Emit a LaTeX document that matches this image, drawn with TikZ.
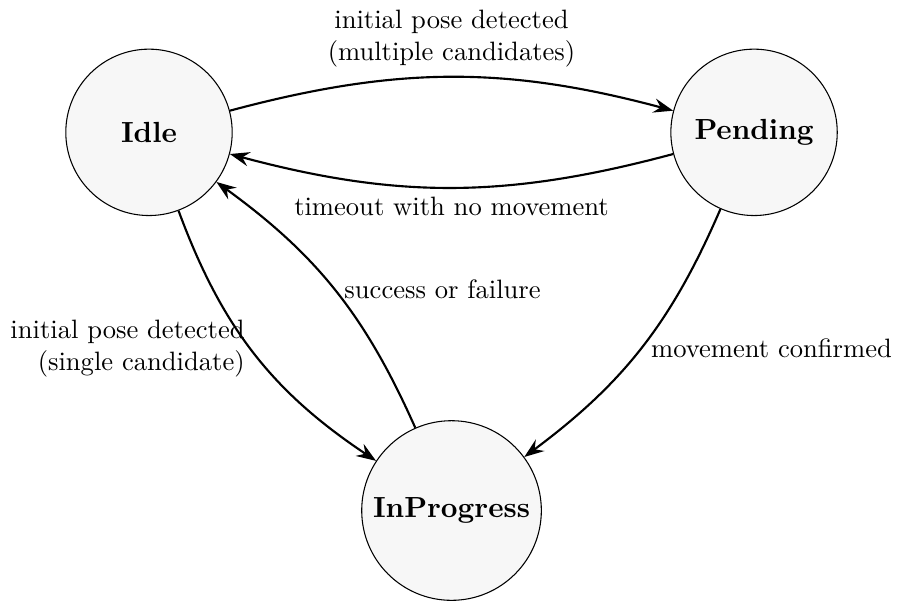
\documentclass[tikz,border=0pt]{standalone}
\usetikzlibrary{arrows.meta}
\begin{document}
\begin{tikzpicture}[
  state/.style={circle, draw, line width=0.4pt, fill=gray!6, minimum size=2.2cm,
    font=\fontsize{10.95}{13.6}\selectfont\bfseries},
  trans/.style={-{Stealth[length=2.6mm,width=1.9mm,inset=0.9mm]}, line width=0.8pt},
  lbl/.style={font=\normalsize}
]
\useasboundingbox (-1.97,-6.22) rectangle (9.89,1.75);

\node[state] (idle) at (0,0) {Idle};
\node[state] (pending) at (8,0) {Pending};
\node[state] (prog) at (4,-5) {InProgress};

% Idle <-> Pending
\draw[trans] (idle) to[bend left=15]
  node[above, align=center, lbl] {initial pose detected\\(multiple candidates)} (pending);
\draw[trans] (pending) to[bend left=15]
  node[below, lbl] {timeout with no movement} (idle);

% transitions into and out of InProgress
\draw[trans] (idle) to[bend right=18]
  node[left, align=right, lbl, yshift=2pt] {initial pose detected\\(single candidate)} (prog);
\draw[trans] (prog) to[bend right=15]
  node[right, lbl] {success or failure} (idle);
\draw[trans] (pending) to[bend left=15]
  node[right, lbl] {movement confirmed} (prog);
\end{tikzpicture}
\end{document}
